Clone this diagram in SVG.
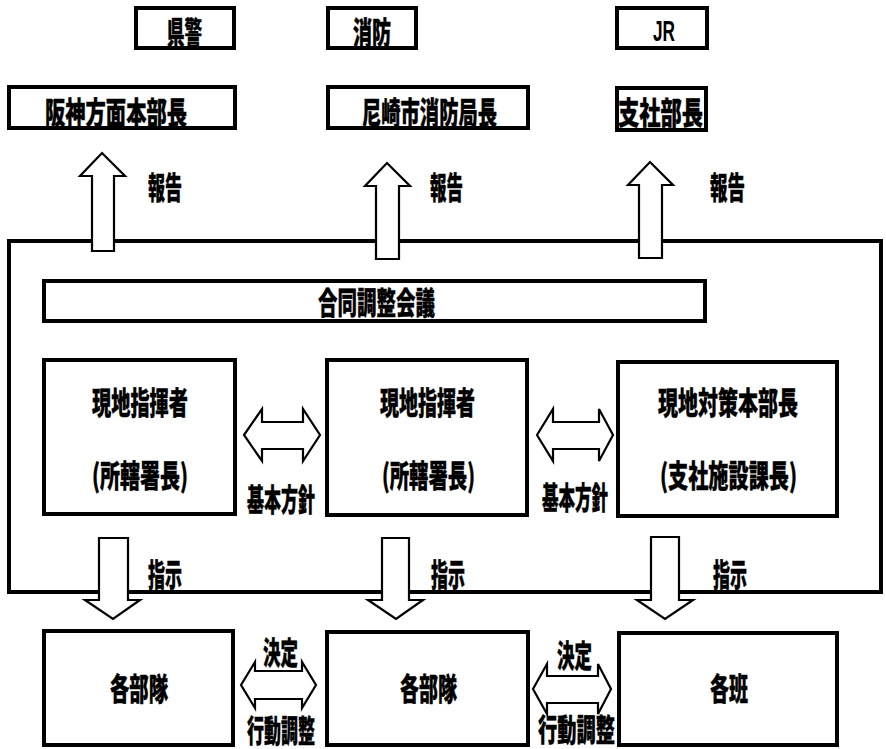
<svg xmlns="http://www.w3.org/2000/svg" width="886" height="749" viewBox="0 0 886 749">
<style>
.box{fill:#fff;stroke:#000;stroke-width:4}
.frame{fill:none;stroke:#000;stroke-width:4}
.arrow{fill:#fff;stroke:#000;stroke-width:2.2;stroke-linejoin:miter}
.t{font-family:"Noto Sans CJK JP","Noto Sans CJK SC",sans-serif;font-weight:900;font-size:31px;text-anchor:middle;dominant-baseline:central;fill:#000;stroke:#000;stroke-width:0.4}
.l{font-family:"Liberation Sans",Arial,sans-serif;font-weight:bold;font-size:29px;text-anchor:middle;dominant-baseline:central;fill:#000}
</style>
<rect width="886" height="749" fill="#fff"/>
<g id="frame"><rect class="frame" x="9" y="241" width="872" height="351"/></g>

<g id="kenkei"><rect class="box" x="136" y="8" width="98" height="40"/><text class="t" x="184.5" y="30" textLength="35" lengthAdjust="spacingAndGlyphs">県警</text></g>
<g id="shobo"><rect class="box" x="328" y="8" width="88" height="40"/><text class="t" x="372" y="30" textLength="38" lengthAdjust="spacingAndGlyphs">消防</text></g>
<g id="jr"><rect class="box" x="617" y="8" width="90" height="40"/><text class="l" x="664" y="31" textLength="22" lengthAdjust="spacingAndGlyphs">JR</text></g>

<g id="hanshin"><rect class="box" x="9" y="87" width="226" height="41"/><text class="t" x="116" y="110" textLength="142" lengthAdjust="spacingAndGlyphs">阪神方面本部長</text></g>
<g id="amagasaki"><rect class="box" x="328" y="87" width="200" height="41"/><text class="t" x="429.5" y="110" textLength="135" lengthAdjust="spacingAndGlyphs">尼崎市消防局長</text></g>
<g id="shisha"><rect class="box" x="617" y="88" width="89" height="42"/><text class="t" x="660.5" y="110" textLength="85" lengthAdjust="spacingAndGlyphs">支社部長</text></g>

<g id="godo"><rect class="box" x="44" y="281" width="661" height="40"/><text class="t" x="376.5" y="300" textLength="117" lengthAdjust="spacingAndGlyphs">合同調整会議</text></g>

<g id="genchi1"><rect class="box" x="44" y="360" width="191" height="154"/><text class="t" x="140" y="400" textLength="96" lengthAdjust="spacingAndGlyphs">現地指揮者</text><text class="t" x="140" y="473" textLength="96" lengthAdjust="spacingAndGlyphs">(所轄署長)</text></g>
<g id="genchi2"><rect class="box" x="327" y="360" width="200" height="155"/><text class="t" x="427.5" y="400" textLength="95" lengthAdjust="spacingAndGlyphs">現地指揮者</text><text class="t" x="428.5" y="473" textLength="93" lengthAdjust="spacingAndGlyphs">(所轄署長)</text></g>
<g id="genchi3"><rect class="box" x="618" y="362" width="219" height="154"/><text class="t" x="728" y="400" textLength="140" lengthAdjust="spacingAndGlyphs">現地対策本部長</text><text class="t" x="728.5" y="473" textLength="137" lengthAdjust="spacingAndGlyphs">(支社施設課長)</text></g>

<g id="butai1"><rect class="box" x="44" y="631" width="189" height="114"/><text class="t" x="139" y="686" textLength="58" lengthAdjust="spacingAndGlyphs">各部隊</text></g>
<g id="butai2"><rect class="box" x="327" y="632" width="201" height="113"/><text class="t" x="428.5" y="686" textLength="57" lengthAdjust="spacingAndGlyphs">各部隊</text></g>
<g id="han"><rect class="box" x="619" y="633" width="218" height="112"/><text class="t" x="729" y="686" textLength="38" lengthAdjust="spacingAndGlyphs">各班</text></g>

<g id="connectors">
<path class="arrow" d="M92,251 L92,176 L80,176 L102,153 L125,176 L114,176 L114,251 Z"/>
<path class="arrow" d="M376,259 L376,186 L365,186 L387,163 L410,186 L399,186 L399,259 Z"/>
<path class="arrow" d="M639,258 L639,185 L628,185 L650,162 L673,185 L662,185 L662,258 Z"/>
<text class="t" x="165" y="185" textLength="34" lengthAdjust="spacingAndGlyphs">報告</text>
<text class="t" x="446.5" y="185" textLength="33" lengthAdjust="spacingAndGlyphs">報告</text>
<text class="t" x="727.5" y="185" textLength="35" lengthAdjust="spacingAndGlyphs">報告</text>

<path class="arrow" d="M244,435 L262,409 L262,422 L303,422 L303,409 L320,435 L303,461 L303,449 L262,449 L262,461 Z"/>
<path class="arrow" d="M537,435 L553,409 L553,422 L599,422 L599,409 L613,435 L599,461 L599,449 L553,449 L553,461 Z"/>
<text class="t" x="281" y="497" textLength="68" lengthAdjust="spacingAndGlyphs">基本方針</text>
<text class="t" x="575" y="495" textLength="66" lengthAdjust="spacingAndGlyphs">基本方針</text>

<path class="arrow" d="M99,538 L128,538 L128,600 L140,600 L113,619 L85,600 L99,600 Z"/>
<path class="arrow" d="M382,538 L409,538 L409,600 L423,600 L396,619 L368,600 L382,600 Z"/>
<path class="arrow" d="M651,537 L679,537 L679,600 L693,600 L665,619 L637,600 L651,600 Z"/>
<text class="t" x="165" y="572" textLength="34" lengthAdjust="spacingAndGlyphs">指示</text>
<text class="t" x="448" y="572" textLength="34" lengthAdjust="spacingAndGlyphs">指示</text>
<text class="t" x="730" y="572" textLength="34" lengthAdjust="spacingAndGlyphs">指示</text>

<path class="arrow" d="M241,685 L255,662 L255,671 L302,671 L302,662 L316,685 L302,708 L302,699 L255,699 L255,708 Z"/>
<path class="arrow" d="M533,689 L547,664 L547,676 L598,676 L598,664 L611,689 L598,714 L598,703 L547,703 L547,714 Z"/>
<text class="t" x="280.5" y="650" textLength="35" lengthAdjust="spacingAndGlyphs">決定</text>
<text class="t" x="574.5" y="653" textLength="35" lengthAdjust="spacingAndGlyphs">決定</text>
<text class="t" x="281" y="728" textLength="68" lengthAdjust="spacingAndGlyphs">行動調整</text>
<text class="t" x="576.5" y="727" textLength="77" lengthAdjust="spacingAndGlyphs">行動調整</text>
</g>
</svg>
